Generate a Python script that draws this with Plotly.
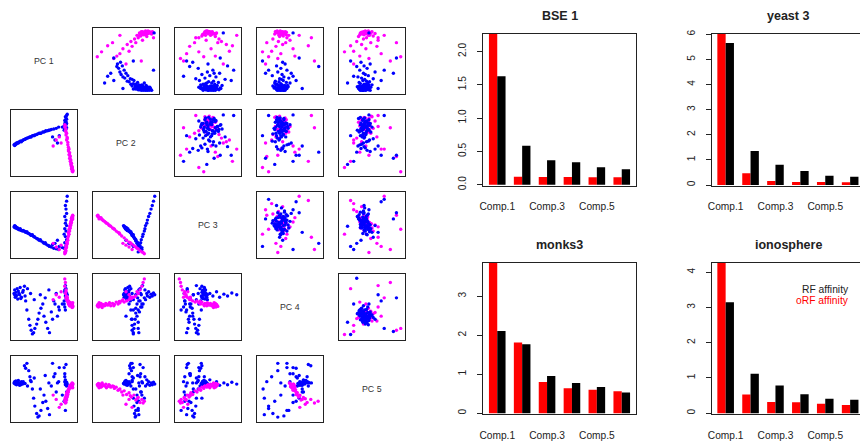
import plotly.graph_objects as go

# ---------------- data ----------------
pc_labels = ["PC 1", "PC 2", "PC 3", "PC 4", "PC 5"]

# upper triangle data set: (PC1, PC2, PC3, PC4, PC5), scaled to panel range
upper_blue = [
    (0.02, 0.85, 0.55, 0.35, 0.40), (0.03, 0.80, 0.48, 0.30, 0.33), (0.02, 0.75, 0.62, 0.42, 0.36),
    (0.04, 0.88, 0.45, 0.28, 0.45), (0.03, 0.70, 0.58, 0.38, 0.30), (0.05, 0.82, 0.40, 0.45, 0.38),
    (0.04, 0.77, 0.66, 0.33, 0.42), (0.06, 0.72, 0.52, 0.25, 0.35), (0.05, 0.90, 0.60, 0.40, 0.28),
    (0.07, 0.68, 0.44, 0.36, 0.48), (0.06, 0.79, 0.70, 0.30, 0.37), (0.08, 0.74, 0.50, 0.47, 0.32),
    (0.07, 0.86, 0.35, 0.34, 0.41), (0.09, 0.65, 0.57, 0.22, 0.39), (0.08, 0.71, 0.64, 0.39, 0.26),
    (0.10, 0.83, 0.47, 0.31, 0.44), (0.09, 0.60, 0.54, 0.43, 0.34), (0.11, 0.76, 0.38, 0.37, 0.50),
    (0.12, 0.66, 0.61, 0.27, 0.40), (0.10, 0.73, 0.73, 0.41, 0.36), (0.13, 0.62, 0.46, 0.35, 0.31),
    (0.14, 0.80, 0.56, 0.50, 0.43), (0.12, 0.58, 0.42, 0.29, 0.37), (0.15, 0.69, 0.67, 0.44, 0.29),
    (0.16, 0.55, 0.51, 0.32, 0.46), (0.18, 0.63, 0.36, 0.39, 0.35), (0.17, 0.52, 0.59, 0.26, 0.41),
    (0.20, 0.60, 0.78, 0.36, 0.38), (0.22, 0.48, 0.45, 0.48, 0.33), (0.21, 0.57, 0.30, 0.33, 0.52),
    (0.24, 0.45, 0.63, 0.40, 0.27), (0.26, 0.53, 0.53, 0.21, 0.44), (0.28, 0.42, 0.40, 0.37, 0.39),
    (0.30, 0.50, 0.69, 0.52, 0.36), (0.32, 0.40, 0.49, 0.30, 0.55), (0.35, 0.47, 0.58, 0.45, 0.30),
    (0.38, 0.38, 0.34, 0.35, 0.42), (0.42, 0.44, 0.82, 0.28, 0.37), (0.45, 0.36, 0.50, 0.42, 0.47),
    (0.48, 0.41, 0.25, 0.38, 0.32), (0.25, 0.20, 0.10, 0.55, 0.20), (0.18, 0.30, 0.88, 0.60, 0.65),
    (0.35, 0.95, 0.92, 0.15, 0.70), (0.41, 0.35, 0.20, 0.97, 0.25), (0.30, 0.25, 0.60, 0.10, 0.85),
    (0.96, 0.96, 0.75, 0.55, 0.45), (0.50, 0.62, 0.15, 0.05, 0.15), (0.14, 0.15, 0.48, 0.25, 0.10),
    (0.55, 0.30, 0.70, 0.65, 0.90), (0.05, 0.45, 0.38, 0.70, 0.60),
    (0.02, 0.78, 0.50, 0.32, 0.34), (0.03, 0.84, 0.57, 0.37, 0.39), (0.04, 0.73, 0.43, 0.41, 0.43),
    (0.02, 0.92, 0.51, 0.29, 0.31), (0.06, 0.87, 0.63, 0.34, 0.35), (0.05, 0.64, 0.49, 0.39, 0.40),
    (0.03, 0.81, 0.53, 0.36, 0.37), (0.04, 0.69, 0.47, 0.31, 0.41), (0.02, 0.88, 0.59, 0.40, 0.35),
    (0.05, 0.76, 0.44, 0.27, 0.39), (0.03, 0.72, 0.68, 0.35, 0.44), (0.06, 0.83, 0.55, 0.43, 0.32),
    (0.04, 0.66, 0.51, 0.33, 0.36), (0.07, 0.79, 0.39, 0.38, 0.46), (0.05, 0.85, 0.62, 0.30, 0.40),
    (0.08, 0.70, 0.57, 0.42, 0.33), (0.03, 0.91, 0.46, 0.34, 0.38), (0.06, 0.74, 0.49, 0.24, 0.42),
    (0.09, 0.68, 0.61, 0.37, 0.29), (0.02, 0.82, 0.42, 0.39, 0.47), (0.07, 0.89, 0.54, 0.32, 0.36),
    (0.10, 0.77, 0.65, 0.46, 0.41), (0.04, 0.62, 0.56, 0.28, 0.34), (0.11, 0.71, 0.43, 0.35, 0.45),
    (0.05, 0.80, 0.71, 0.41, 0.31), (0.08, 0.84, 0.48, 0.26, 0.39),
]
upper_magenta = [
    (0.98, 0.85, 0.52, 0.35, 0.40), (0.97, 0.90, 0.48, 0.30, 0.45), (0.96, 0.80, 0.57, 0.40, 0.35),
    (0.98, 0.93, 0.45, 0.27, 0.50), (0.95, 0.76, 0.60, 0.37, 0.42), (0.97, 0.88, 0.53, 0.44, 0.33),
    (0.94, 0.82, 0.42, 0.32, 0.47), (0.96, 0.72, 0.64, 0.29, 0.38), (0.95, 0.86, 0.50, 0.41, 0.55),
    (0.93, 0.78, 0.55, 0.36, 0.30), (0.92, 0.68, 0.46, 0.48, 0.44), (0.94, 0.92, 0.58, 0.25, 0.37),
    (0.91, 0.74, 0.40, 0.39, 0.52), (0.90, 0.84, 0.62, 0.33, 0.28), (0.88, 0.70, 0.35, 0.45, 0.41),
    (0.86, 0.64, 0.68, 0.22, 0.36), (0.84, 0.77, 0.47, 0.50, 0.60), (0.82, 0.58, 0.72, 0.31, 0.25),
    (0.80, 0.66, 0.28, 0.43, 0.48), (0.77, 0.52, 0.80, 0.38, 0.33), (0.74, 0.60, 0.20, 0.27, 0.58),
    (0.70, 0.45, 0.55, 0.55, 0.40), (0.66, 0.55, 0.85, 0.20, 0.20), (0.62, 0.40, 0.15, 0.35, 0.65),
    (0.58, 0.35, 0.62, 0.58, 0.30), (0.54, 0.30, 0.05, 0.30, 0.45), (0.57, 0.03, 0.43, 0.15, 0.97),
    (0.75, 0.20, 0.90, 0.80, 0.15), (0.45, 0.50, 0.75, 0.10, 0.20), (0.88, 0.95, 0.30, 0.85, 0.60),
    (0.65, 0.10, 0.35, 0.05, 0.05), (0.92, 0.40, 0.97, 0.65, 0.70), (0.50, 0.75, 0.10, 0.90, 0.80),
    (0.80, 0.28, 0.66, 0.12, 0.90), (0.99, 0.82, 0.49, 0.34, 0.39),
    (0.97, 0.79, 0.54, 0.38, 0.36), (0.96, 0.87, 0.46, 0.33, 0.43), (0.98, 0.75, 0.51, 0.42, 0.41),
    (0.97, 0.83, 0.55, 0.31, 0.42), (0.98, 0.88, 0.50, 0.38, 0.36), (0.96, 0.78, 0.44, 0.35, 0.47),
    (0.95, 0.91, 0.59, 0.42, 0.39), (0.99, 0.86, 0.47, 0.29, 0.44), (0.94, 0.74, 0.62, 0.37, 0.34),
    (0.97, 0.94, 0.52, 0.33, 0.49), (0.93, 0.81, 0.41, 0.44, 0.37), (0.98, 0.77, 0.57, 0.26, 0.41),
    (0.96, 0.89, 0.45, 0.40, 0.31), (0.92, 0.72, 0.54, 0.32, 0.46), (0.95, 0.85, 0.63, 0.36, 0.43),
]

# lower triangle data set: (PC1, PC2, PC3, PC4, PC5)
lower_blue = [
    # dense left tip
    (0.01, 0.47, 0.47, 0.72, 0.60), (0.02, 0.48, 0.46, 0.78, 0.62), (0.03, 0.47, 0.48, 0.66, 0.58),
    (0.04, 0.49, 0.45, 0.74, 0.63), (0.05, 0.50, 0.46, 0.69, 0.57), (0.06, 0.49, 0.44, 0.80, 0.61),
    (0.07, 0.51, 0.45, 0.63, 0.59), (0.08, 0.50, 0.43, 0.76, 0.64), (0.10, 0.52, 0.42, 0.70, 0.56),
    (0.11, 0.53, 0.44, 0.82, 0.60), (0.13, 0.52, 0.41, 0.66, 0.62), (0.15, 0.54, 0.40, 0.74, 0.58),
    (0.02, 0.46, 0.49, 0.70, 0.59), (0.04, 0.48, 0.47, 0.68, 0.61), (0.09, 0.51, 0.43, 0.72, 0.60),
    (0.12, 0.53, 0.42, 0.64, 0.57), (0.16, 0.55, 0.41, 0.77, 0.62), (0.19, 0.56, 0.39, 0.68, 0.59),
    (0.23, 0.58, 0.37, 0.80, 0.55), (0.28, 0.60, 0.34, 0.72, 0.64), (0.34, 0.62, 0.31, 0.62, 0.68),
    (0.44, 0.66, 0.26, 0.70, 0.50), (0.52, 0.69, 0.21, 0.65, 0.72), (0.58, 0.71, 0.16, 0.78, 0.60),
    (0.80, 0.76, 0.13, 0.55, 0.40),
    # arm with loop
    (0.18, 0.56, 0.40, 0.84, 0.88), (0.20, 0.57, 0.38, 0.60, 0.84), (0.22, 0.58, 0.39, 0.45, 0.92),
    (0.25, 0.59, 0.36, 0.30, 0.80), (0.27, 0.60, 0.35, 0.20, 0.70), (0.29, 0.60, 0.33, 0.12, 0.62),
    (0.31, 0.62, 0.34, 0.06, 0.50), (0.33, 0.62, 0.31, 0.08, 0.35), (0.35, 0.63, 0.30, 0.15, 0.22),
    (0.38, 0.64, 0.28, 0.22, 0.10), (0.40, 0.65, 0.27, 0.30, 0.04), (0.42, 0.66, 0.25, 0.40, 0.06),
    (0.45, 0.66, 0.24, 0.48, 0.15), (0.48, 0.68, 0.22, 0.55, 0.28), (0.50, 0.68, 0.20, 0.35, 0.40),
    (0.53, 0.70, 0.19, 0.25, 0.30), (0.56, 0.70, 0.17, 0.15, 0.18), (0.59, 0.71, 0.15, 0.08, 0.08),
    (0.62, 0.72, 0.14, 0.42, 0.55), (0.66, 0.73, 0.12, 0.60, 0.70), (0.70, 0.74, 0.11, 0.72, 0.45),
    (0.74, 0.76, 0.10, 0.50, 0.62),
    # vertical arm
    (0.85, 0.70, 0.06, 0.45, 0.15), (0.83, 0.71, 0.12, 0.60, 0.30), (0.86, 0.73, 0.16, 0.80, 0.90),
    (0.84, 0.74, 0.21, 0.50, 0.75), (0.87, 0.75, 0.26, 0.70, 0.45), (0.85, 0.77, 0.31, 0.85, 0.60),
    (0.83, 0.78, 0.35, 0.55, 0.85), (0.86, 0.80, 0.40, 0.65, 0.35), (0.84, 0.81, 0.44, 0.78, 0.70),
    (0.87, 0.82, 0.49, 0.62, 0.55), (0.85, 0.84, 0.53, 0.72, 0.65), (0.86, 0.85, 0.58, 0.68, 0.58),
    (0.84, 0.87, 0.64, 0.75, 0.62), (0.87, 0.89, 0.69, 0.66, 0.56), (0.86, 0.91, 0.76, 0.71, 0.60),
    (0.85, 0.93, 0.82, 0.68, 0.57), (0.87, 0.95, 0.89, 0.73, 0.61), (0.88, 0.97, 0.97, 0.70, 0.58),
    # scattered
    (0.68, 0.55, 0.20, 0.55, 0.75), (0.75, 0.62, 0.15, 0.45, 0.85), (0.72, 0.50, 0.25, 0.35, 0.60),
    (0.64, 0.60, 0.18, 0.30, 0.92),
]
lower_magenta = [
    (0.84, 0.80, 0.03, 0.96, 0.30), (0.85, 0.78, 0.05, 0.90, 0.27), (0.84, 0.76, 0.06, 0.84, 0.33),
    (0.86, 0.73, 0.08, 0.78, 0.28), (0.85, 0.70, 0.11, 0.72, 0.36), (0.87, 0.66, 0.14, 0.68, 0.32),
    (0.86, 0.63, 0.16, 0.66, 0.40), (0.88, 0.59, 0.19, 0.64, 0.37), (0.87, 0.55, 0.22, 0.62, 0.44),
    (0.89, 0.51, 0.25, 0.60, 0.41), (0.89, 0.47, 0.29, 0.58, 0.47), (0.90, 0.43, 0.32, 0.60, 0.45),
    (0.91, 0.40, 0.35, 0.57, 0.50), (0.90, 0.37, 0.38, 0.55, 0.48), (0.92, 0.34, 0.40, 0.58, 0.53),
    (0.91, 0.31, 0.43, 0.54, 0.51), (0.93, 0.28, 0.45, 0.56, 0.55), (0.92, 0.25, 0.48, 0.52, 0.53),
    (0.94, 0.22, 0.50, 0.55, 0.57), (0.93, 0.20, 0.52, 0.53, 0.54), (0.95, 0.17, 0.54, 0.56, 0.58),
    (0.94, 0.15, 0.56, 0.52, 0.55), (0.95, 0.12, 0.58, 0.54, 0.57), (0.96, 0.10, 0.60, 0.51, 0.54),
    (0.95, 0.08, 0.61, 0.55, 0.58), (0.96, 0.07, 0.62, 0.53, 0.56), (0.97, 0.05, 0.63, 0.50, 0.59),
    (0.96, 0.04, 0.64, 0.54, 0.55), (0.97, 0.03, 0.65, 0.52, 0.57), (0.97, 0.06, 0.60, 0.57, 0.52),
    (0.96, 0.09, 0.62, 0.56, 0.53), (0.97, 0.04, 0.66, 0.51, 0.58), (0.95, 0.13, 0.57, 0.53, 0.56),
    (0.96, 0.11, 0.59, 0.49, 0.60), (0.94, 0.18, 0.53, 0.54, 0.52), (0.93, 0.23, 0.49, 0.57, 0.56),
    (0.92, 0.30, 0.44, 0.52, 0.54), (0.90, 0.39, 0.37, 0.59, 0.49), (0.88, 0.57, 0.21, 0.66, 0.39),
    (0.86, 0.68, 0.12, 0.75, 0.34),
    (0.70, 0.55, 0.14, 0.70, 0.33), (0.75, 0.60, 0.10, 0.66, 0.20), (0.65, 0.45, 0.20, 0.62, 0.40),
    (0.78, 0.50, 0.17, 0.75, 0.25),
]

components = ["Comp.1", "Comp.2", "Comp.3", "Comp.4", "Comp.5", "Comp.6"]
shown_components = ["Comp.1", "Comp.3", "Comp.5"]
bar_titles = ["BSE 1", "yeast 3", "monks3", "ionosphere"]
orf_values = [
    [2.40, 0.12, 0.115, 0.115, 0.11, 0.11],   # BSE 1
    [6.20, 0.47, 0.16, 0.12, 0.12, 0.11],     # yeast 3
    [4.00, 1.81, 0.80, 0.64, 0.60, 0.56],     # monks3
    [4.40, 0.53, 0.32, 0.31, 0.27, 0.235],    # ionosphere
]
rf_values = [
    [1.625, 0.585, 0.365, 0.335, 0.26, 0.23],
    [5.65, 1.35, 0.81, 0.56, 0.37, 0.33],
    [2.11, 1.77, 0.95, 0.77, 0.67, 0.53],
    [3.15, 1.12, 0.79, 0.54, 0.41, 0.38],
]
legend_labels = ["RF affinity", "oRF affinity"]

# ---------------- layout helpers ----------------
W, H = 860, 441
FONT = "Liberation Sans, Arial, Helvetica, sans-serif"
TXT = "#222222"
BLUE, MAGENTA = "#0000FF", "#FF00FF"

def xdom(x0, x1):
    return [max(0, x0 / W), min(1, x1 / W)]

def ydom(y0, y1):
    return [max(0, (H - y1) / H), min(1, (H - y0) / H)]

fig = go.Figure()
layout = {}
annotations = []
ax = 0

cell_x = [11 + 82 * c for c in range(5)]
cell_y = [28 + 82 * r for r in range(5)]
CELL = 66

for r in range(5):
    for c in range(5):
        x0, y0 = cell_x[c], cell_y[r]
        if r == c:
            annotations.append(dict(x=(x0 + CELL / 2) / W, y=(H - (y0 + CELL / 2)) / H,
                                    xref="paper", yref="paper", text=pc_labels[r],
                                    xanchor="center", yanchor="middle",
                                    showarrow=False, font=dict(size=8.8, color="#333333", family=FONT)))
            continue
        ax += 1
        sfx = "" if ax == 1 else str(ax)
        if r > c:
            groups = [(lower_blue, BLUE), (lower_magenta, MAGENTA)]
        else:
            groups = [(upper_magenta, MAGENTA), (upper_blue, BLUE)]
        for pts, col in groups:
            fig.add_trace(go.Scatter(
                x=[p[c] for p in pts], y=[p[r] for p in pts], mode="markers",
                marker=dict(color=col, size=3.4, line=dict(width=0)),
                xaxis="x" + sfx, yaxis="y" + sfx, showlegend=False, hoverinfo="skip"))
        common = dict(range=[-0.04, 1.04], showticklabels=False, ticks="", showgrid=False,
                      zeroline=False, showline=True, mirror=True, linecolor="#222222", linewidth=1)
        layout["xaxis" + sfx] = dict(domain=xdom(x0, x0 + CELL), anchor="y" + sfx, **common)
        layout["yaxis" + sfx] = dict(domain=ydom(y0, y0 + CELL), anchor="x" + sfx, **common)

# bar charts
bar_boxes = [
    (483.3, 635.7, 34, 186, True),
    (711.7, 864.7, 34, 186, False),
    (483.3, 635.7, 262.7, 414.3, True),
    (711.7, 864.7, 262.7, 414.3, False),
]
y_ranges = [[-0.02, 2.26], [-0.04, 6.01], [-0.03, 3.86], [-0.03, 4.27]]
y_dticks = [0.5, 1, 1, 1]
y_formats = [".1f", "d", "d", "d"]
unit = (635.7 - 483.3) / 18.36  # px per bar width

for k in range(4):
    ax += 1
    sfx = str(ax)
    bx0, bx1, by0, by1, full = bar_boxes[k]
    vis_x1 = min(bx1, W)
    xr_hi = 0.32 + (vis_x1 - bx0) / unit
    x_range = [(0.32 - 2) / 3, (xr_hi - 2) / 3]
    fig.add_trace(go.Bar(x=components, y=orf_values[k], marker=dict(color="#FF0000", line=dict(width=0)),
                         xaxis="x" + sfx, yaxis="y" + sfx, showlegend=False, hoverinfo="skip"))
    fig.add_trace(go.Bar(x=components, y=rf_values[k], marker=dict(color="#000000", line=dict(width=0)),
                         xaxis="x" + sfx, yaxis="y" + sfx, showlegend=False, hoverinfo="skip"))
    layout["xaxis" + sfx] = dict(domain=xdom(bx0, vis_x1), anchor="y" + sfx, type="category",
                                 categoryorder="array", categoryarray=components,
                                 range=x_range, tickmode="array", tickvals=shown_components,
                                 ticktext=shown_components, ticks="", showgrid=False, zeroline=False,
                                 showline=True, mirror=True, linecolor="#222222", linewidth=1,
                                 tickfont=dict(size=10.2, color=TXT, family=FONT), ticklabelstandoff=11)
    layout["yaxis" + sfx] = dict(domain=ydom(by0, by1), anchor="x" + sfx, range=y_ranges[k],
                                 dtick=y_dticks[k], tick0=0, tickformat=y_formats[k],
                                 ticks="outside", ticklen=5, tickcolor="#222222", tickangle=-90,
                                 showgrid=False, zeroline=False, showline=True, mirror=full,
                                 linecolor="#222222", linewidth=1,
                                 tickfont=dict(size=10.2, color=TXT, family=FONT), ticklabelstandoff=7)
    annotations.append(dict(x=((bx0 + bx1) / 2) / W, y=(H - (by0 - 18)) / H, xref="paper", yref="paper",
                            text="<b>%s</b>" % bar_titles[k], showarrow=False,
                            xanchor="center", yanchor="middle",
                            font=dict(size=12.5, color=TXT, family=FONT)))

# legend text inside ionosphere panel
annotations.append(dict(x=851 / W, y=(H - 289) / H, xref="paper", yref="paper", text=legend_labels[0],
                        showarrow=False, xanchor="right", yanchor="middle",
                        font=dict(size=10.3, color=TXT, family=FONT)))
annotations.append(dict(x=851 / W, y=(H - 300) / H, xref="paper", yref="paper", text=legend_labels[1],
                        showarrow=False, xanchor="right", yanchor="middle",
                        font=dict(size=10.3, color="#FF0000", family=FONT)))

fig.update_layout(width=W, height=H, margin=dict(l=0, r=0, t=0, b=0, autoexpand=False),
                  paper_bgcolor="white", plot_bgcolor="white", barmode="group", bargap=1 / 3,
                  bargroupgap=0, annotations=annotations, font=dict(family=FONT), **layout)
fig.write_html("out.html", config={"displayModeBar": False, "staticPlot": True},
               post_script="document.body.style.margin='0';document.body.style.padding='0';"
                           "document.body.style.overflow='hidden';")
